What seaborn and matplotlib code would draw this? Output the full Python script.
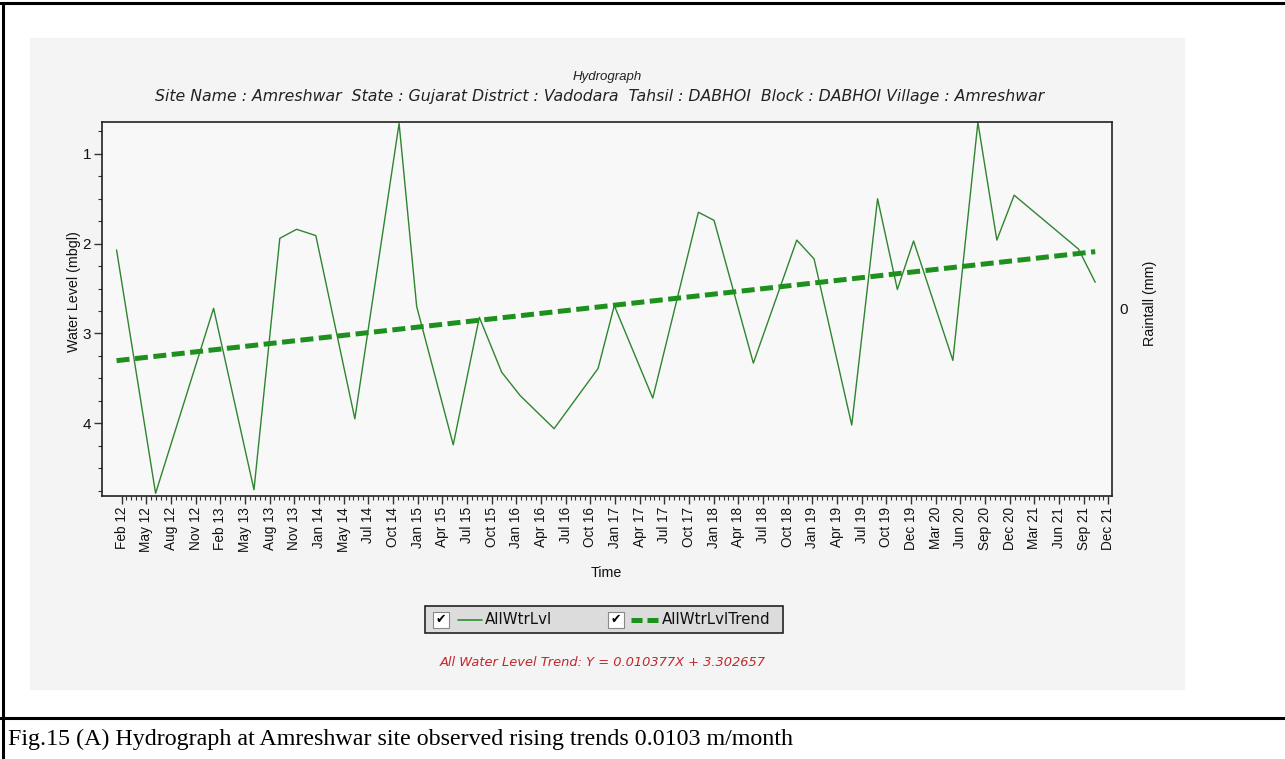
import numpy as np
import pandas as pd
import matplotlib
matplotlib.use("Agg")
import matplotlib.pyplot as plt
import matplotlib.dates as mdates
import seaborn as sns
from matplotlib.patches import Rectangle
from matplotlib.lines import Line2D

# ---------------- data ----------------
obs_dates = ["2012-01-14", "2012-06-04", "2013-01-01", "2013-05-28", "2013-08-30",
             "2013-10-30", "2014-01-08", "2014-05-30", "2014-11-07", "2015-01-10",
             "2015-05-23", "2015-08-26", "2015-11-15", "2016-01-21", "2016-05-24",
             "2016-10-31", "2016-12-29", "2017-05-18", "2017-10-31", "2017-12-27",
             "2018-05-19", "2018-10-24", "2018-12-26", "2019-05-12", "2019-08-14",
             "2019-10-25", "2019-12-23", "2020-05-14", "2020-08-13", "2020-10-21",
             "2020-12-23", "2021-08-14", "2021-10-14"]
water_level = [2.07, 4.78, 2.72, 4.74, 1.94, 1.84, 1.91, 3.95, 0.66, 2.70,
               4.24, 2.82, 3.43, 3.69, 4.06, 3.39, 2.69, 3.72, 1.65, 1.74,
               3.33, 1.96, 2.17, 4.02, 1.50, 2.51, 1.97, 3.30, 0.65, 1.96,
               1.46, 2.06, 2.43]
tick_labels = ["Feb 12", "May 12", "Aug 12", "Nov 12", "Feb 13", "May 13", "Aug 13",
               "Nov 13", "Jan 14", "May 14", "Jul 14", "Oct 14", "Jan 15", "Apr 15",
               "Jul 15", "Oct 15", "Jan 16", "Apr 16", "Jul 16", "Oct 16", "Jan 17",
               "Apr 17", "Jul 17", "Oct 17", "Jan 18", "Apr 18", "Jul 18", "Oct 18",
               "Jan 19", "Apr 19", "Jul 19", "Oct 19", "Dec 19", "Mar 20", "Jun 20",
               "Sep 20", "Dec 20", "Mar 21", "Jun 21", "Sep 21", "Dec 21"]
tick_first, tick_last = "2012-02-01", "2021-12-01"
x_start, x_end = "2011-11-22", "2021-12-14"
trend_intercept = 3.302657   # from the chart's trend equation
trend_slope = 0.010377       # m per month (water level rising)

title = "Hydrograph"
subtitle = ("Site Name : Amreshwar  State : Gujarat District : Vadodara  Tahsil : DABHOI  "
            "Block : DABHOI Village : Amreshwar")
trend_text = "All Water Level Trend: Y = 0.010377X + 3.302657"
caption = "Fig.15 (A) Hydrograph at Amreshwar site observed rising trends 0.0103 m/month"

# ---------------- frame ----------------
df = pd.DataFrame({"date": pd.to_datetime(obs_dates), "level": water_level})
months = (df["date"] - df["date"].iloc[0]).dt.days / 30.44
df["trend"] = trend_intercept - trend_slope * months

sns.set_style("ticks")
plt.rcParams["font.family"] = ["Liberation Sans", "DejaVu Sans"]

W, H = 1285, 759
fig = plt.figure(figsize=(W / 100, H / 100), dpi=100)
fig.patch.set_facecolor("white")

def fx(px):
    return px / W

def fy(py):
    return 1 - py / H

# grey chart panel
fig.add_artist(Rectangle((fx(30), fy(690)), fx(1185) - fx(30), fy(38) - fy(690),
                         transform=fig.transFigure, facecolor="#f4f4f4",
                         edgecolor="none", zorder=0))
# document table lines
fig.add_artist(Line2D([0, 1], [fy(3), fy(3)], transform=fig.transFigure, color="black", lw=2.2))
fig.add_artist(Line2D([fx(3), fx(3)], [0, fy(3)], transform=fig.transFigure, color="black", lw=2.2))
fig.add_artist(Line2D([0, 1], [fy(718), fy(718)], transform=fig.transFigure, color="black", lw=2.2))

ax = fig.add_axes([fx(102), fy(496), fx(1112) - fx(102), fy(122) - fy(496)])
ax.set_facecolor("#f8f8f8")

sns.lineplot(data=df, x="date", y="level", ax=ax, color="#2f852f", lw=1.0,
             estimator=None, sort=False, legend=False)
sns.lineplot(data=df, x="date", y="trend", ax=ax, color="#1e901e", lw=3.6,
             estimator=None, sort=False, legend=False, dashes=False)
ax.lines[-1].set_dashes((2.6, 1.1))

ax.set_xlim(pd.Timestamp(x_start), pd.Timestamp(x_end))
ax.set_ylim(max(water_level) + 0.03, min(water_level) - 0.005)

t0 = mdates.date2num(pd.Timestamp(tick_first))
t1 = mdates.date2num(pd.Timestamp(tick_last))
ax.set_xticks(np.linspace(t0, t1, len(tick_labels)))
ax.set_xticks(np.linspace(t0, t1, (len(tick_labels) - 1) * 5 + 1), minor=True)
ax.set_xticklabels(tick_labels, rotation=90, fontsize=9.8, color="#111111")
ax.set_yticks([1, 2, 3, 4])
ax.set_yticks(np.arange(0.75, 4.81, 0.25), minor=True)
ax.set_yticklabels(["1", "2", "3", "4"], fontsize=11, color="#111111")
ax.tick_params(axis="both", which="major", direction="out", length=6, width=1, color="#333333", pad=2)
ax.tick_params(axis="both", which="minor", direction="out", length=3, width=0.8, color="#333333")
ax.set_xlabel("")
ax.set_ylabel("")
for s in ax.spines.values():
    s.set_color("#222222")
    s.set_linewidth(1.2)

# right (rainfall) axis
ax2 = ax.twinx()
ax2.set_ylim(-1, 1)
ax2.set_yticks([0])
ax2.set_yticklabels(["0"], fontsize=11, color="#111111")
ax2.tick_params(axis="y", length=0, pad=5)
for s in ax2.spines.values():
    s.set_visible(False)

# texts
wide = ["DejaVu Sans"]
fig.text(fx(607), fy(77), title, ha="center", va="center", fontsize=9.5, style="italic",
         color="#222222")
fig.text(fx(600), fy(97), subtitle, ha="center", va="center", fontsize=11.3, style="italic",
         color="#222222", family=wide)
fig.text(fx(74), fy(292), "Water Level (mbgl)", rotation=90, ha="center", va="center",
         fontsize=10.3, color="#111111")
fig.text(fx(1150), fy(303), "Raintall (mm)", rotation=90, ha="center", va="center",
         fontsize=10.3, color="#111111")
fig.text(fx(606), fy(573), "Time", ha="center", va="center", fontsize=10.3, color="#111111")

# legend box
fig.add_artist(Rectangle((fx(425), fy(633)), fx(783) - fx(425), fy(606) - fy(633),
                         transform=fig.transFigure, facecolor="#dcdcdc",
                         edgecolor="#222222", lw=1.2, zorder=3))
for cx in (433, 608):
    fig.add_artist(Rectangle((fx(cx), fy(628)), fx(cx + 16) - fx(cx), fy(612) - fy(628),
                             transform=fig.transFigure, facecolor="white",
                             edgecolor="#888888", lw=0.8, zorder=4))
    fig.text(fx(cx + 8), fy(620), "\u2714", ha="center", va="center", fontsize=9,
             color="black", family=wide, zorder=5)
fig.add_artist(Line2D([fx(458), fx(482)], [fy(620), fy(620)], transform=fig.transFigure,
                      color="#2b8f2b", lw=1.2, zorder=5))
fig.text(fx(485), fy(620), "AllWtrLvl", ha="left", va="center", fontsize=10.8,
         color="#111111", family=wide, zorder=5)
fig.add_artist(Line2D([fx(631), fx(659)], [fy(620), fy(620)], transform=fig.transFigure,
                      color="#1e901e", lw=3.6, dashes=(2.2, 1.0), zorder=5))
fig.text(fx(662), fy(620), "AllWtrLvlTrend", ha="left", va="center", fontsize=10.8,
         color="#111111", family=wide, zorder=5)

fig.text(fx(603), fy(662), trend_text, ha="center", va="center", fontsize=9.4,
         style="italic", color="#c0282d", family=wide)

fig.text(fx(8), fy(739), caption, ha="left", va="center", fontsize=17.3,
         family=["Liberation Serif", "DejaVu Serif"], color="black")

fig.savefig("out.png", dpi=100, facecolor="white")
